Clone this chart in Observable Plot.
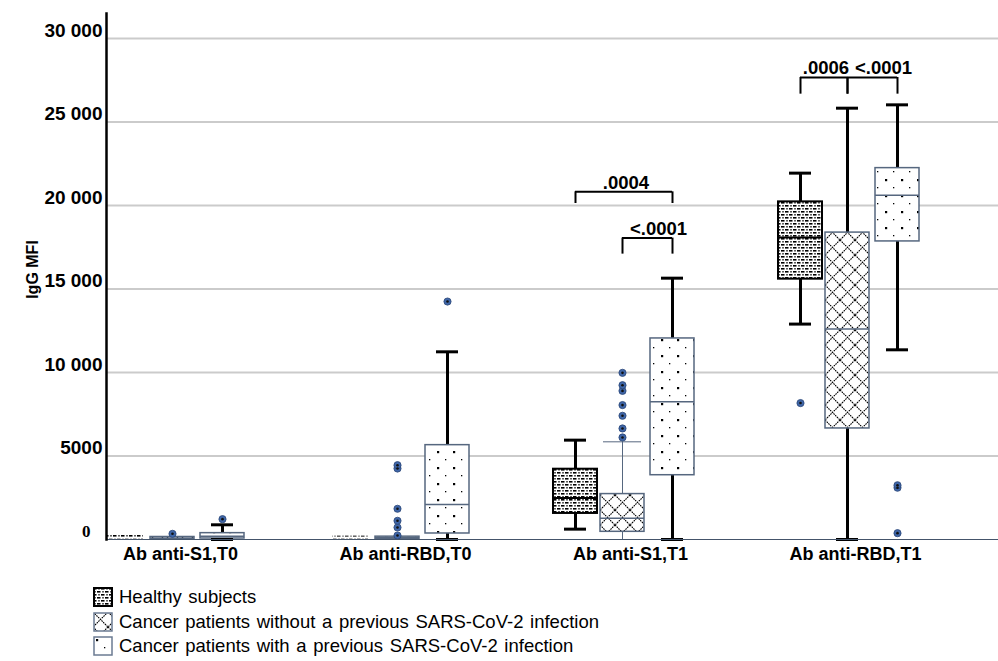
<!DOCTYPE html>
<html><head><meta charset="utf-8">
<script src="https://cdn.jsdelivr.net/npm/d3@7"></script>
<script src="https://cdn.jsdelivr.net/npm/@observablehq/plot@0.6"></script>
<style>
body{margin:0;background:#fff;font-family:"Liberation Sans",Arial,sans-serif;}
#chart svg{display:block}
#legend{margin-top:9px;padding-left:93px;font-size:18.5px;color:#000;word-spacing:1.5px}
.row{display:flex;align-items:center;height:24.5px}
.row svg{margin-right:5px;display:block}
</style></head><body>
<div id="chart"></div>
<div id="legend"></div>
<script>
// ---------- data ----------
const categories = ["Ab anti-S1,T0", "Ab anti-RBD,T0", "Ab anti-S1,T1", "Ab anti-RBD,T1"];
const groups = [
  "Healthy subjects",
  "Cancer patients without a previous SARS-CoV-2 infection",
  "Cancer patients with a previous SARS-CoV-2 infection"
];
const yTicks = [0, 5000, 10000, 15000, 20000, 25000, 30000];

// Healthy subjects
const healthyLo  = [null, null, 620, 12900];
const healthyQ1  = [40, 40, 1560, 15590];
const healthyMed = [110, 100, 2480, 18080];
const healthyQ3  = [260, 200, 4210, 20220];
const healthyHi  = [null, null, 5950, 21940];
const healthyOut = [[], [], [], [8170]];

// Cancer patients without previous infection
const withoutLo  = [null, null, 0, 0];
const withoutQ1  = [30, 30, 460, 6650];
const withoutMed = [80, 100, 1280, 12600];
const withoutQ3  = [150, 170, 2720, 18380];
const withoutHi  = [null, null, 5850, 25830];
const withoutOut = [[340], [240, 720, 1120, 1840, 4250, 4450], [6110, 6650, 7410, 8050, 8900, 9240, 9980], []];

// Cancer patients with previous infection
const withLo  = [0, 0, 0, 11360];
const withQ1  = [60, 360, 3850, 17850];
const withMed = [200, 2100, 8250, 20620];
const withQ3  = [380, 5650, 12040, 22240];
const withHi  = [880, 11240, 15650, 26030];
const withOut = [[1220], [14250], [], [380, 3100, 3250]];

// significance brackets
const bracketCategory = ["Ab anti-S1,T1", "Ab anti-S1,T1", "Ab anti-RBD,T1", "Ab anti-RBD,T1"];
const bracketFrom  = [0, 1, 0, 1];   // group index
const bracketTo    = [2, 2, 1, 2];
const bracketY     = [20820, 18050, 27670, 27670];
const bracketLegY  = [20120, 17090, 26670, 26670];
const bracketLabel = [".0004", "<.0001", ".0006", "<.0001"];

// ---------- tables ----------
const LO = [healthyLo, withoutLo, withLo], Q1 = [healthyQ1, withoutQ1, withQ1],
      MED = [healthyMed, withoutMed, withMed], Q3 = [healthyQ3, withoutQ3, withQ3],
      HI = [healthyHi, withoutHi, withHi], OUT = [healthyOut, withoutOut, withOut];
const boxes = [], outliers = [];
groups.forEach((g, gi) => categories.forEach((c, ci) => {
  boxes.push({category: c, group: g, gi, lo: LO[gi][ci], q1: Q1[gi][ci], med: MED[gi][ci], q3: Q3[gi][ci], hi: HI[gi][ci]});
  OUT[gi][ci].forEach(v => outliers.push({category: c, group: g, gi, value: v}));
}));
const brackets = bracketCategory.map((c, i) => ({category: c, from: bracketFrom[i], to: bracketTo[i], y: bracketY[i], legY: bracketLegY[i], label: bracketLabel[i]}));

// ---------- styles ----------
const offset = [-47, 0, 50];           // horizontal offset of each group inside a category
const patId = ["p-healthy", "p-without", "p-with"];
const slate = "#56677f";
const boxStroke = ["#000", slate, slate];
const boxStrokeW = [2, 1.5, 1.5];
const half = 22;                       // half band width

const thin = d => d.gi === 1 && d.category === categories[2];
const marks = [];
marks.push(Plot.ruleY(yTicks.filter(t => t > 0), {stroke: "#cbcbcb", strokeWidth: 2}));

groups.forEach((g, gi) => {
  const B = boxes.filter(d => d.gi === gi);
  const dx = offset[gi];
  const W = B.filter(d => d.hi != null);
  const Wthick = W.filter(d => !thin(d)), Wthin = W.filter(thin);
  // whiskers
  marks.push(Plot.ruleX(Wthick, {x: "category", y1: "q3", y2: "hi", dx, stroke: "#000", strokeWidth: 3}));
  marks.push(Plot.ruleX(Wthick, {x: "category", y1: "lo", y2: "q1", dx, stroke: "#000", strokeWidth: 3}));
  marks.push(Plot.ruleX(Wthin, {x: "category", y1: "lo", y2: "hi", dx, stroke: slate, strokeWidth: 1}));
  // boxes
  const big = B.filter(d => gi !== 0 || d.q3 - d.q1 > 1000);
  const tiny = B.filter(d => gi === 0 && d.q3 - d.q1 <= 1000);
  marks.push(Plot.barY(big, {x: "category", y1: "q1", y2: "q3", dx, fill: `url(#${patId[gi]})`, stroke: boxStroke[gi], strokeWidth: boxStrokeW[gi]}));
  marks.push(Plot.barY(tiny, {x: "category", y1: "q1", y2: "q3", dx, fill: `url(#${patId[gi]})`, insetLeft: 4, insetRight: 4}));
  marks.push(Plot.tickY(big, {x: "category", y: "med", dx, stroke: boxStroke[gi], strokeWidth: boxStrokeW[gi]}));
  // caps
  marks.push(Plot.tickY(Wthick, {x: "category", y: "hi", dx, stroke: "#000", strokeWidth: 3, insetLeft: 11, insetRight: 11}));
  marks.push(Plot.tickY(Wthick, {x: "category", y: "lo", dx, stroke: "#000", strokeWidth: 3, insetLeft: 11, insetRight: 11}));
  marks.push(Plot.tickY(Wthin, {x: "category", y: "hi", dx, stroke: slate, strokeWidth: 1, insetLeft: 3, insetRight: 3}));
  // outliers
  const O = outliers.filter(d => d.gi === gi);
  marks.push(Plot.dot(O, {x: "category", y: "value", dx, r: 3.6, fill: "#3f66a8", stroke: "#2b4677", strokeWidth: 0.8}));
  marks.push(Plot.dot(O, {x: "category", y: "value", dx, r: 1.3, fill: "#111", stroke: "none"}));
});

// brackets
brackets.forEach(b => {
  const a = offset[b.from], z = offset[b.to];
  marks.push(Plot.tickY([b], {x: "category", y: "y", stroke: "#000", strokeWidth: 2, insetLeft: half + a, insetRight: half - z}));
  marks.push(Plot.ruleX([b], {x: "category", y1: "legY", y2: "y", dx: a, stroke: "#000", strokeWidth: 2}));
  marks.push(Plot.ruleX([b], {x: "category", y1: "legY", y2: "y", dx: z, stroke: "#000", strokeWidth: 2}));
  marks.push(Plot.text([b], {x: "category", y: "y", text: "label", dx: (a + z) / 2 + (b.label[0] === "<" ? 11 : 2), dy: -3, lineAnchor: "bottom", fontSize: 18.5, fontWeight: "bold"}));
});

// axes
marks.push(Plot.ruleY([0], {stroke: "#44546a", strokeWidth: 1.2}));
marks.push(Plot.axisY(yTicks, {tickSize: 0, tickPadding: 4, dy: -8, fontSize: 19, fontWeight: "bold", label: null,
  tickFormat: d => d >= 10000 ? d3.format(",")(d).replace(",", " ") : String(d)}));
marks.push(Plot.axisX({tickSize: 0, tickPadding: 8, dx: 8, fontSize: 18, fontWeight: "bold", label: null}));
marks.push(Plot.frame({anchor: "left", stroke: "#000", strokeWidth: 2.5}));
marks.push(Plot.text(["IgG MFI"], {frameAnchor: "left", textAnchor: "middle", rotate: -90, dx: -74, dy: -7, fontSize: 16, fontWeight: "bold"}));

const svg = Plot.plot({
  width: 998, height: 576,
  marginLeft: 106, marginRight: 0, marginTop: 13, marginBottom: 37,
  style: {fontFamily: "Liberation Sans, Arial, sans-serif", fontWeight: "bold", color: "#000", background: "#fff"},
  x: {type: "band", domain: categories, paddingInner: 0.805, paddingOuter: 0.379, align: 0.257, label: null},
  y: {domain: [0, 31500], label: null},
  marks
});

// patterns
function addPatterns(root) {
  const defs = d3.select(root).insert("defs", ":first-child");
  const p1 = defs.append("pattern").attr("id", "p-healthy").attr("patternUnits", "userSpaceOnUse").attr("width", 8).attr("height", 6);
  p1.append("rect").attr("width", 8).attr("height", 6).attr("fill", "#fff");
  p1.append("rect").attr("x", 0).attr("y", 1).attr("width", 3.5).attr("height", 1.6).attr("fill", "#000");
  p1.append("rect").attr("x", 5.3).attr("y", 1.1).attr("width", 1.4).attr("height", 1.4).attr("fill", "#000");
  p1.append("rect").attr("x", 4).attr("y", 4).attr("width", 3.5).attr("height", 1.6).attr("fill", "#000");
  p1.append("rect").attr("x", 1.3).attr("y", 4.1).attr("width", 1.4).attr("height", 1.4).attr("fill", "#000");
  const p2 = defs.append("pattern").attr("id", "p-without").attr("patternUnits", "userSpaceOnUse").attr("width", 15).attr("height", 15);
  p2.append("rect").attr("width", 15).attr("height", 15).attr("fill", "#fff");
  p2.append("path").attr("d", "M0,0L15,15M15,0L0,15").attr("stroke", "#000").attr("stroke-width", 1.1).attr("stroke-dasharray", "1.6 0.8");
  const p3 = defs.append("pattern").attr("id", "p-with").attr("patternUnits", "userSpaceOnUse").attr("width", 16).attr("height", 16);
  p3.append("rect").attr("width", 16).attr("height", 16).attr("fill", "#fff");
  p3.append("rect").attr("x", 3).attr("y", 3).attr("width", 2.2).attr("height", 2.2).attr("fill", "#000");
  p3.append("rect").attr("x", 11).attr("y", 11).attr("width", 1.3).attr("height", 1.3).attr("fill", "#000");
}
addPatterns(svg);

// zero label in serif as in the reference
d3.select(svg).selectAll("text").filter(function() { return this.textContent === "0"; })
  .style("font-family", "Liberation Serif, DejaVu Serif, serif").style("font-size", "17px").attr("transform", function() {
    const t = this.getAttribute("transform") || ""; return t + " translate(-12,0)"; });

document.getElementById("chart").appendChild(svg);

// legend
const legend = d3.select("#legend");
groups.forEach((g, gi) => {
  const row = legend.append("div").attr("class", "row");
  const s = row.append("svg").attr("width", 21).attr("height", 20);
  s.append("rect").attr("x", 1).attr("y", 1).attr("width", 18).attr("height", 18)
    .attr("fill", `url(#${patId[gi]})`).attr("stroke", gi === 0 ? "#000" : "#6b7b92").attr("stroke-width", gi === 0 ? 2 : 1.5);
  row.append("span").text(g);
});
</script>
</body></html>
